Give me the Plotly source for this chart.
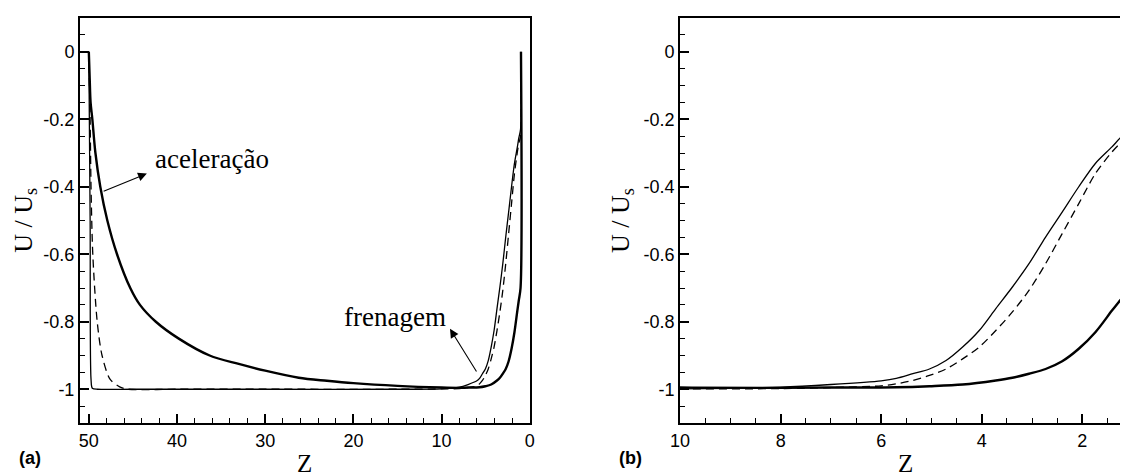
import plotly.graph_objects as go

# ---- data ----
# thin solid curve
z_thin = [50.0, 49.85, 49.75, 49.6, 49.0, 45.0, 30.0, 15.0, 10.0, 8.0, 7.0, 6.0,
          5.7, 5.37, 5.04, 4.71, 4.38, 4.05, 3.72, 3.39, 3.06, 2.73, 2.40, 2.07,
          1.74, 1.41, 1.25, 1.05, 1.0]
u_thin = [0.0, -0.5, -0.97, -0.997, -1.0, -1.0, -1.0, -1.0, -0.999, -0.994, -0.986, -0.975,
          -0.968, -0.954, -0.94, -0.915, -0.875, -0.826, -0.761, -0.697, -0.628, -0.549,
          -0.475, -0.40, -0.331, -0.282, -0.256, -0.23, 0.0]

# dashed curve
z_dash = [50.0, 49.85, 49.75, 49.55, 49.05, 48.5, 47.6, 46.5, 45.5, 40.0, 30.0, 15.0,
          10.0, 8.0, 7.0, 6.0, 5.7, 5.37, 5.04, 4.71, 4.38, 4.05, 3.72, 3.39, 3.06,
          2.73, 2.40, 2.07, 1.74, 1.41, 1.25, 1.05, 1.0]
u_dash = [0.0, -0.2, -0.4, -0.6, -0.8, -0.9, -0.97, -0.993, -1.0, -1.0, -1.0, -1.0,
          -0.999, -0.998, -0.995, -0.99, -0.984, -0.974, -0.959, -0.94, -0.91, -0.875,
          -0.826, -0.771, -0.707, -0.628, -0.539, -0.45, -0.361, -0.297, -0.272, -0.25, 0.0]

# thick solid curve
z_thick = [50.0, 49.9, 49.8, 49.6, 49.25, 48.7, 47.9, 46.8, 45.3, 44.2, 42.4, 39.8,
           36.3, 33.0, 30.0, 26.2, 23.0, 20.0, 15.0, 10.0, 8.0, 7.0, 5.7, 5.04, 4.38,
           3.72, 3.39, 3.06, 2.73, 2.40, 2.07, 1.74, 1.41, 1.25, 1.05, 1.0]
u_thick = [0.0, -0.08, -0.15, -0.2, -0.3, -0.4, -0.5, -0.6, -0.7, -0.75, -0.8, -0.85,
           -0.9, -0.925, -0.945, -0.966, -0.975, -0.982, -0.99, -0.995, -0.996, -0.995,
           -0.994, -0.991, -0.986, -0.974, -0.966, -0.954, -0.94, -0.917, -0.88, -0.831,
           -0.767, -0.737, -0.70, 0.0]

y_tick_vals = [0, -0.2, -0.4, -0.6, -0.8, -1]
y_tick_text = ["0", "-0.2", "-0.4", "-0.6", "-0.8", "-1"]
xa_tick_vals = [50, 40, 30, 20, 10, 0]
xb_tick_vals = [10, 8, 6, 4, 2]

# ---- figure ----
SERIF = "Liberation Serif, Times New Roman, serif"
SANS = "Liberation Sans, Arial, sans-serif"

fig = go.Figure()

series = [
    (z_thin, u_thin, dict(color="black", width=1.3, shape="spline", smoothing=0.8)),
    (z_dash, u_dash, dict(color="black", width=1.3, dash="8px,5px", shape="spline",
                          smoothing=0.8)),
    (z_thick, u_thick, dict(color="black", width=2.4, shape="spline", smoothing=0.9)),
]
for xa, ya in (("x", "y"), ("x2", "y2")):
    for zz, uu, ln in series:
        fig.add_trace(go.Scatter(x=zz, y=uu, mode="lines", line=ln,
                                 xaxis=xa, yaxis=ya, showlegend=False,
                                 hoverinfo="skip", cliponaxis=True))

common_axis = dict(showline=True, linecolor="black", linewidth=2, ticks="inside",
                   tickcolor="black", tickwidth=1.5, ticklen=9, showgrid=False,
                   zeroline=False, tickfont=dict(family=SANS, size=18, color="black"))

yaxis_common = dict(common_axis, range=[-1.1, 0.1], tickvals=y_tick_vals,
                    ticktext=y_tick_text,
                    minor=dict(dtick=0.05, tick0=0, ticks="inside", ticklen=5,
                               tickcolor="black", tickwidth=1, showgrid=False))

fig.update_layout(
    width=1125, height=476,
    margin=dict(l=80, r=0, t=18, b=53),
    paper_bgcolor="white", plot_bgcolor="white",
    xaxis=dict(common_axis, domain=[0, 0.4325], range=[51, 0], anchor="y",
               tickvals=xa_tick_vals, mirror=True,
               minor=dict(dtick=2, tick0=0, ticks="inside", ticklen=5,
                          tickcolor="black", tickwidth=1, showgrid=False)),
    yaxis=dict(yaxis_common, anchor="x", domain=[0, 1], mirror=True),
    xaxis2=dict(common_axis, domain=[0.577, 1], range=[10, 1.25], anchor="y2",
                tickvals=xb_tick_vals, mirror=True,
                minor=dict(dtick=0.5, tick0=0, ticks="inside", ticklen=5,
                           tickcolor="black", tickwidth=1, showgrid=False)),
    yaxis2=dict(yaxis_common, anchor="x2", domain=[0, 1], mirror=False),
)

ann = []
# axis titles
for xp in (-0.0536, 0.5206):
    ann.append(dict(xref="paper", yref="paper", x=xp, y=0.5, text="U / U<sub>s</sub>",
                    textangle=-90, showarrow=False, xanchor="center", yanchor="middle",
                    font=dict(family=SERIF, size=26, color="black")))
for xp in (0.2163, 0.7933):
    ann.append(dict(xref="paper", yref="paper", x=xp, y=-0.101, text="Z",
                    showarrow=False, xanchor="center", yanchor="middle",
                    font=dict(family=SERIF, size=25, color="black")))
# panel labels
ann.append(dict(xref="paper", yref="paper", x=-0.0606, y=-0.087, text="<b>(a)</b>",
                showarrow=False, xanchor="left", yanchor="middle",
                font=dict(family=SANS, size=18, color="black")))
ann.append(dict(xref="paper", yref="paper", x=0.5167, y=-0.087, text="<b>(b)</b>",
                showarrow=False, xanchor="left", yanchor="middle",
                font=dict(family=SANS, size=18, color="black")))
# curve labels
ann.append(dict(xref="x", yref="y", x=42.68, y=-0.318, text="aceleração",
                showarrow=False, xanchor="left", yanchor="middle",
                font=dict(family=SERIF, size=27, color="black")))
ann.append(dict(xref="x", yref="y", x=21.35, y=-0.786, text="frenagem",
                showarrow=False, xanchor="left", yanchor="middle",
                font=dict(family=SERIF, size=27, color="black")))
# arrows
ann.append(dict(xref="x", yref="y", axref="x", ayref="y", x=43.42, y=-0.361,
                ax=48.49, ay=-0.415, text="", showarrow=True, arrowhead=2,
                arrowsize=1.6, arrowwidth=1.1, arrowcolor="black", standoff=0,
                startstandoff=0))
ann.append(dict(xref="x", yref="y", axref="x", ayref="y", x=9.05, y=-0.821,
                ax=5.94, ay=-0.952, text="", showarrow=True, arrowhead=2,
                arrowsize=1.6, arrowwidth=1.1, arrowcolor="black", standoff=0,
                startstandoff=0))
fig.update_layout(annotations=ann)

# remove the default 8px page margin so the 1125x476 figure fills the window exactly
fig.write_html(
    "out.html",
    config={"displayModeBar": False},
    post_script=("document.body.style.margin='0';"
                 "document.body.style.overflow='hidden';"
                 "document.documentElement.style.overflow='hidden';"),
)
